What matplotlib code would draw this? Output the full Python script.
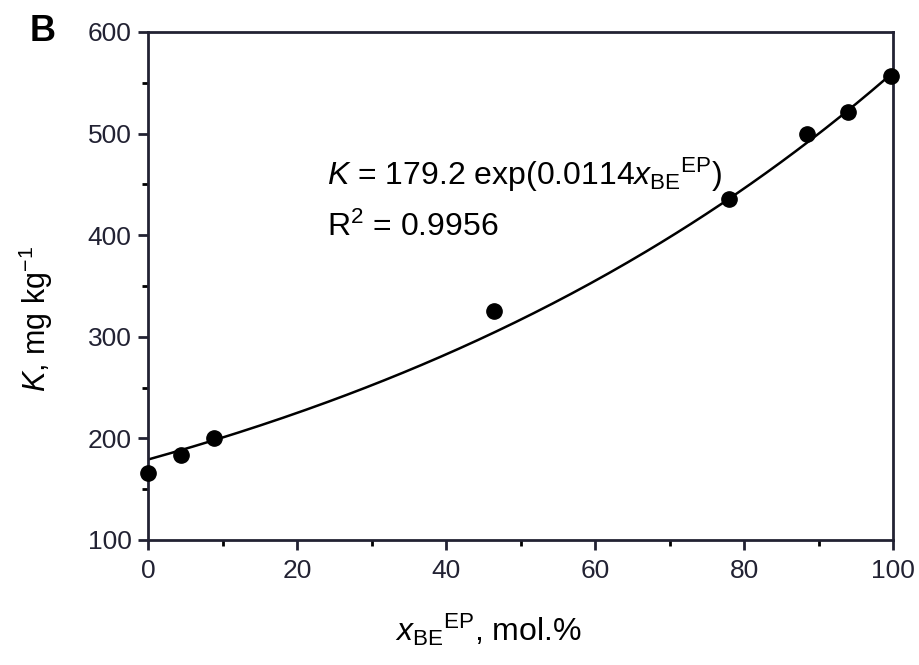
import matplotlib
matplotlib.use("Agg")
import matplotlib.pyplot as plt
from matplotlib.ticker import MultipleLocator
import numpy as np

# mole fraction of BE in EP (mol.%) and partition constant K (mg/kg)
x_be = [0.0, 4.4, 8.8, 46.4, 77.9, 88.4, 93.9, 99.7]
k_vals = [166, 184, 200, 325, 436, 500, 521, 557]

# fitted curve K = a * exp(b x)
fit_a = 179.2
fit_b = 0.0114

plt.rcParams["font.family"] = ["Liberation Sans", "DejaVu Sans"]
plt.rcParams["mathtext.fontset"] = "custom"
plt.rcParams["mathtext.rm"] = "Liberation Sans"
plt.rcParams["mathtext.it"] = "Liberation Sans:italic"
plt.rcParams["mathtext.bf"] = "Liberation Sans:bold"

fig = plt.figure(figsize=(9.2, 6.65), dpi=100)
ax = fig.add_axes([0.161, 0.188, 0.810, 0.764])

xs = np.linspace(0, 100, 200)
ax.plot(xs, fit_a * np.exp(fit_b * xs), color="black", lw=1.8, zorder=2)
ax.plot(x_be, k_vals, "o", color="black", markersize=11, zorder=3,
        clip_on=False)

ax.set_xlim(0, 100)
ax.set_ylim(100, 600)
ax.xaxis.set_major_locator(MultipleLocator(20))
ax.xaxis.set_minor_locator(MultipleLocator(10))
ax.yaxis.set_major_locator(MultipleLocator(100))
ax.yaxis.set_minor_locator(MultipleLocator(50))
ax.tick_params(which="major", direction="out", length=7, width=2,
               labelsize=19, colors="#222233", pad=5)
ax.tick_params(axis="x", which="major", pad=7)
ax.tick_params(which="minor", direction="out", length=4, width=2)
for s in ax.spines.values():
    s.set_linewidth(2)
    s.set_color("#222233")

ax.set_xlabel(r"$x_{\mathrm{BE}}{}^{\mathrm{EP}}$, mol.%", fontsize=23)
ax.xaxis.set_label_coords(0.456, -0.14, transform=ax.transAxes)
ax.set_ylabel(r"$K$, mg kg$^{-1}$", fontsize=22)
ax.yaxis.set_label_coords(-0.125, 0.435, transform=ax.transAxes)

ax.text(24, 459, r"$K$ = 179.2 exp(0.0114$x_{\mathrm{BE}}{}^{\mathrm{EP}}$)",
        fontsize=23, va="center")
ax.text(24, 408, r"R$^2$ = 0.9956", fontsize=23, va="center")

fig.text(0.032, 0.952, "B", fontsize=26, fontweight="bold", va="center")

fig.savefig("out.png", dpi=100)
